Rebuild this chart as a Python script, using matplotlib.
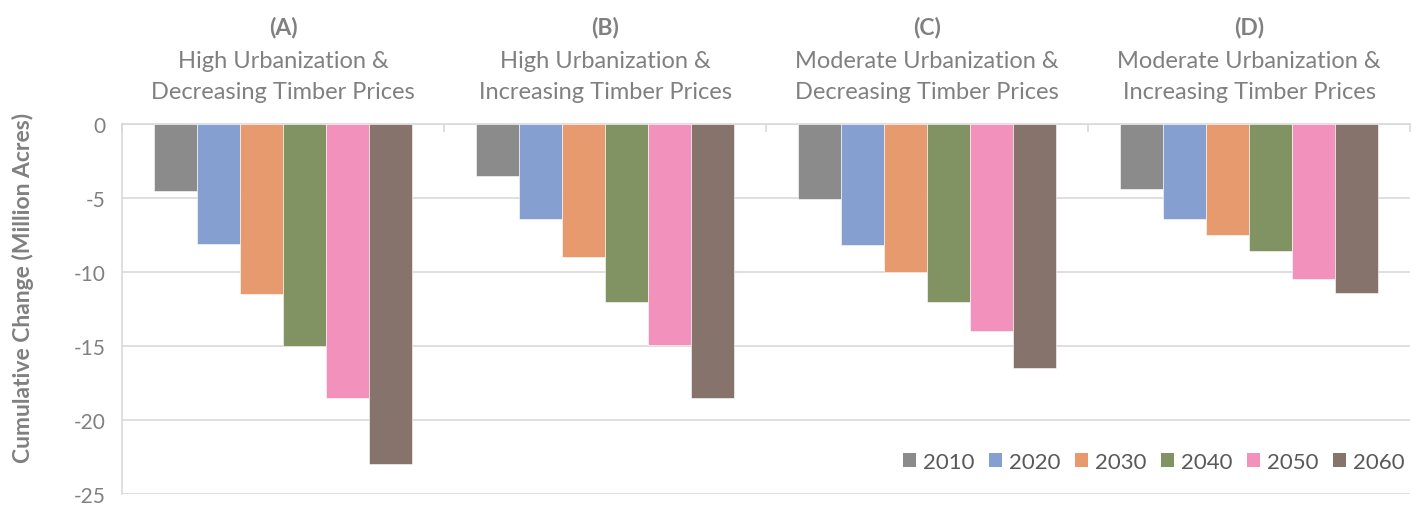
import numpy as np
import matplotlib
matplotlib.use('Agg')
import matplotlib.pyplot as plt
from matplotlib.patches import Patch

# ---- Data ----

panels = ['(A)', '(B)', '(C)', '(D)']
scenarios = ['High Urbanization &\nDecreasing Timber Prices',
             'High Urbanization &\nIncreasing Timber Prices',
             'Moderate Urbanization &\nDecreasing Timber Prices',
             'Moderate Urbanization &\nIncreasing Timber Prices']
years = ['2010', '2020', '2030', '2040', '2050', '2060']

chg_2010 = [-4.5, -3.5, -5.1, -4.4]
chg_2020 = [-8.1, -6.4, -8.2, -6.4]
chg_2030 = [-11.5, -9.0, -10.0, -7.5]
chg_2040 = [-15.0, -12.0, -12.0, -8.6]
chg_2050 = [-18.5, -14.9, -14.0, -10.5]
chg_2060 = [-23.0, -18.5, -16.5, -11.4]
series = [chg_2010, chg_2020, chg_2030, chg_2040, chg_2050, chg_2060]

colors = ['#8b8b8b', '#869fd1', '#e69a6e', '#819363', '#f291bb', '#86746c']
txt_color = '#808080'
grid_color = '#d9d9d9'

plt.rcParams['font.family'] = ['Lato', 'DejaVu Sans']
plt.rcParams['axes.unicode_minus'] = False

fig = plt.figure(figsize=(14.22, 5.06), dpi=100)
ax = fig.add_axes([0.0858, 0.0217, 0.9058, 0.7313])

ncat = len(panels)
nser = len(years)
w = 1.0 / (nser + 1.5)
x = np.arange(ncat)

for i in range(nser):
    ax.bar(x + (i - (nser - 1) / 2) * w, series[i], width=w,
           color=colors[i], edgecolor='#ffffff', linewidth=0.4, zorder=3)

ax.set_xlim(-0.5, ncat - 0.5)
ax.set_ylim(-25, 0)
ax.set_yticks(np.arange(-25, 1, 5))
ax.yaxis.grid(True, color=grid_color, linewidth=1.2, zorder=0)
ax.tick_params(axis='y', length=0, labelsize=15, labelcolor=txt_color, pad=12)

# category separators hanging from the zero line
ax.xaxis.tick_top()
ax.set_xticks(np.arange(-0.5, ncat, 1.0))
ax.tick_params(axis='x', direction='in', length=6, color=grid_color,
               width=1.2, labeltop=False, labelbottom=False)

for s in ['right', 'bottom']:
    ax.spines[s].set_visible(False)
for s in ['left', 'top']:
    ax.spines[s].set_color(grid_color)
    ax.spines[s].set_linewidth(1.2)

ax.set_ylabel('Cumulative Change (Million Acres)', fontsize=16.5,
              fontweight='bold', color=txt_color)
ax.yaxis.set_label_coords(-0.068, 0.56)

# scenario titles above each group (offsets in pixels from the zero line)
for k in range(ncat):
    line1, line2 = scenarios[k].split('\n')
    ax.annotate(panels[k], xy=(x[k], 0), xytext=(0, 97),
                textcoords='offset pixels', ha='center', va='center',
                fontsize=16.5, fontweight='bold', color=txt_color,
                annotation_clip=False)
    ax.annotate(line1, xy=(x[k], 0), xytext=(0, 63),
                textcoords='offset pixels', ha='center', va='center',
                fontsize=17, color=txt_color, annotation_clip=False)
    ax.annotate(line2, xy=(x[k], 0), xytext=(0, 32),
                textcoords='offset pixels', ha='center', va='center',
                fontsize=17, color=txt_color, annotation_clip=False)

handles = [Patch(facecolor=colors[i], label=years[i]) for i in range(nser)]
leg = ax.legend(handles=handles, ncol=nser, loc='center right',
                bbox_to_anchor=(1.006, 0.086), frameon=False, fontsize=16,
                handlelength=0.6, handleheight=0.6, handletextpad=0.3,
                columnspacing=0.65, borderaxespad=0.2)
for t in leg.get_texts():
    t.set_color('#595959')

fig.savefig('out.png', dpi=100)
